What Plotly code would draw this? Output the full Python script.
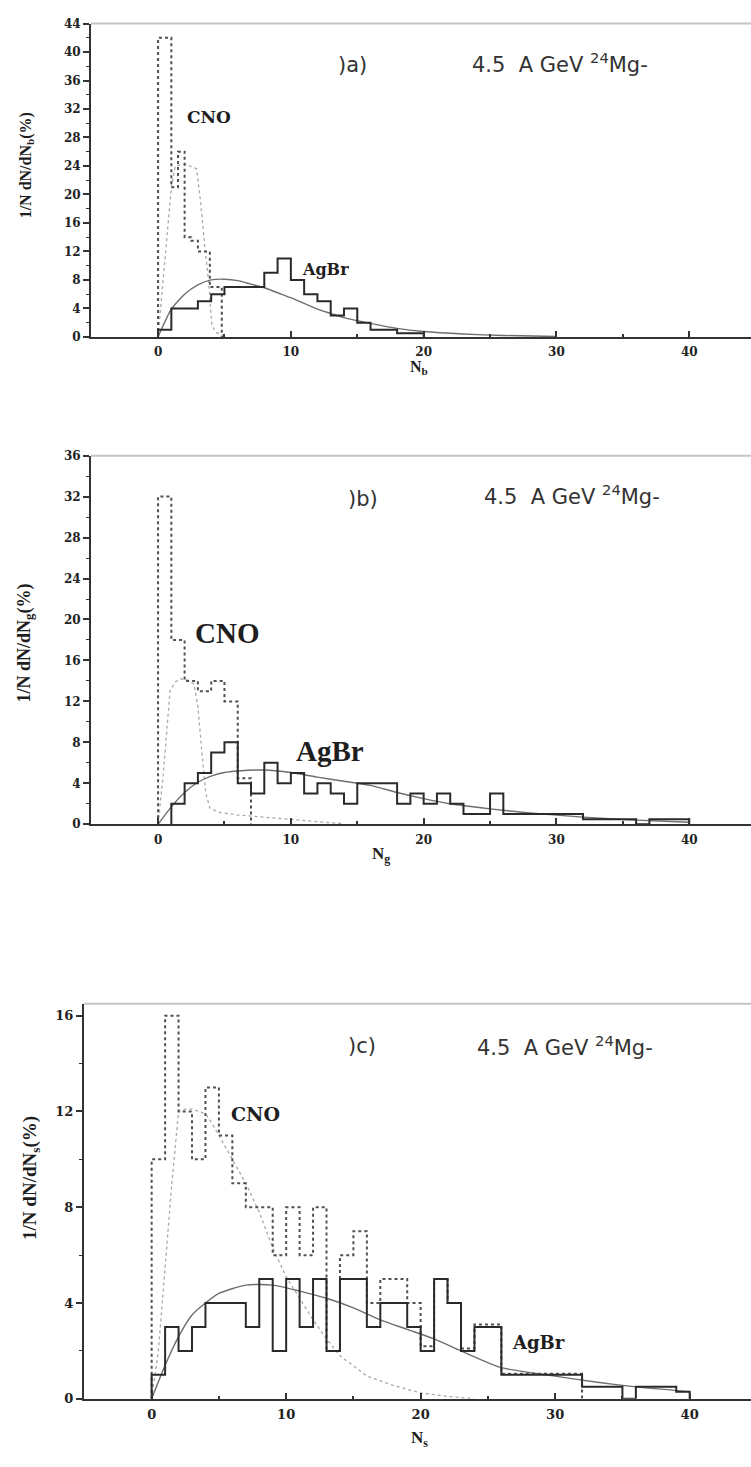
import plotly.graph_objects as go

W, H = 751, 1467

# ---------------- data ----------------
# panel (a): N_b
nb_cno_edges = [0, 1, 1.5, 2, 2.5, 3, 3.9, 4.8]
nb_cno_vals = [42, 21, 26, 14, 13.5, 12, 7]
nb_agbr_edges = [0, 1, 3, 4, 5, 8, 9, 10, 11, 12, 13, 14, 15, 16, 18, 20]
nb_agbr_vals = [1, 4, 5, 6, 7, 9, 11, 8, 6, 5, 3, 4, 2, 1, 0.5]
nb_agbr_fit_x = [0, 1, 2, 3, 4, 5, 6, 7, 8, 9, 10, 11, 12, 13, 14, 16, 18, 20, 23, 26, 30]
nb_agbr_fit_y = [0, 3.9, 6.0, 7.3, 8.0, 8.1, 7.9, 7.4, 6.9, 6.2, 5.5, 4.7, 3.9, 3.3, 2.7, 1.9, 1.2, 0.75, 0.4, 0.2, 0.05]
nb_cno_fit_x = [0, 0.5, 1, 1.3, 2, 2.9, 3.2, 3.5, 3.8, 4.05, 4.4, 4.8, 5.2]
nb_cno_fit_y = [0, 10.5, 21, 24, 24.3, 23.6, 19, 13, 7.9, 1.6, 0.6, 0.3, 0]

# panel (b): N_g
ng_cno_edges = [0, 1, 2, 3, 4, 5, 6, 7]
ng_cno_vals = [32, 18, 14, 13, 14, 12, 4.5]
ng_agbr_edges = [1, 2, 3, 4, 5, 6, 7, 8, 9, 10, 11, 12, 13, 14, 15, 18, 19, 20, 21, 22, 23, 25, 26, 32, 36, 37, 40]
ng_agbr_vals = [2, 4, 5, 7, 8, 4, 3, 6, 4, 5, 3, 4, 3, 2, 4, 2, 3, 2, 3, 2, 1, 3, 1, 0.5, 0, 0.5]
ng_agbr_fit_x = [0, 1, 2, 3, 4, 5, 6, 8, 10, 12, 14, 16, 18, 20, 22, 25, 28, 32, 36, 40]
ng_agbr_fit_y = [0, 1.7, 3.1, 4.1, 4.7, 5.05, 5.2, 5.3, 5.05, 4.6, 4.2, 3.8, 3.1, 2.5, 2.0, 1.5, 1.1, 0.7, 0.4, 0.2]
ng_cno_fit_x = [0, 0.4, 0.9, 1.3, 1.7, 2.2, 2.7, 3.0, 3.3, 3.6, 3.9, 4.5, 6, 8, 10, 12, 14]
ng_cno_fit_y = [0, 5, 13, 13.9, 14.2, 14.1, 13.7, 11.5, 7, 3, 1.6, 1.2, 0.9, 0.7, 0.5, 0.3, 0.05]

# panel (c): N_s
ns_cno_edges = list(range(0, 27)) + [32]
ns_cno_vals = [10, 16, 12, 10, 13, 11, 9, 8, 8, 6, 8, 6, 8, 2, 6, 7, 4, 5, 5, 4, 2.2, 5, 4, 2.1, 3.1, 3.1, 1.05]
ns_agbr_edges = [0, 1, 2, 3, 4, 7, 8, 9, 10, 11, 12, 13, 14, 16, 17, 19, 20, 21, 22, 23, 24, 26, 32, 35, 36, 39, 40]
ns_agbr_vals = [1, 3, 2, 3, 4, 3, 5, 2, 5, 3, 5, 2, 5, 3, 4, 3, 2, 5, 4, 2, 3, 1, 0.5, 0, 0.5, 0.3]
ns_agbr_fit_x = [0, 1, 2, 3, 4, 5, 7, 9, 11, 13, 15, 17, 19, 21, 23, 26, 30, 33, 36, 40]
ns_agbr_fit_y = [0, 1.4, 2.6, 3.5, 4.0, 4.4, 4.75, 4.75, 4.5, 4.2, 3.8, 3.3, 2.9, 2.5, 2.0, 1.3, 0.95, 0.7, 0.5, 0.3]
ns_cno_fit_x = [0, 0.5, 1, 1.5, 2, 2.5, 3, 4, 4.5, 5, 6, 7, 8, 9, 10, 11, 12, 13, 14, 16, 18, 20, 22, 24]
ns_cno_fit_y = [0, 2, 5.5, 9, 12, 12.1, 12.1, 11.9, 11.5, 11, 10, 9, 7.8, 6.3, 5.1, 4.2, 3.3, 2.5, 1.8, 0.95, 0.55, 0.25, 0.1, 0]

y_ticks_a = [0, 4, 8, 12, 16, 20, 24, 28, 32, 36, 40, 44]
y_ticks_b = [0, 4, 8, 12, 16, 20, 24, 28, 32, 36]
y_ticks_c = [0, 4, 8, 12, 16]
x_ticks = [0, 10, 20, 30, 40]

# ---------------- helpers ----------------
def step_xy(edges, vals):
    xs = [edges[0]] + list(edges[:-1]) + [edges[-1], edges[-1]]
    ys = [0] + list(vals) + [vals[-1], 0]
    return xs, ys

def px(x):
    return x / W

def py(y):
    return 1 - y / H

fig = go.Figure()

panels = [
    ("x", "y", nb_cno_edges, nb_cno_vals, nb_agbr_edges, nb_agbr_vals,
     nb_agbr_fit_x, nb_agbr_fit_y, nb_cno_fit_x, nb_cno_fit_y),
    ("x2", "y2", ng_cno_edges, ng_cno_vals, ng_agbr_edges, ng_agbr_vals,
     ng_agbr_fit_x, ng_agbr_fit_y, ng_cno_fit_x, ng_cno_fit_y),
    ("x3", "y3", ns_cno_edges, ns_cno_vals, ns_agbr_edges, ns_agbr_vals,
     ns_agbr_fit_x, ns_agbr_fit_y, ns_cno_fit_x, ns_cno_fit_y),
]

for xa, ya, ce, cv, ae, av, afx, afy, cfx, cfy in panels:
    # CNO fit (light dotted)
    fig.add_trace(go.Scatter(x=cfx, y=cfy, mode="lines", xaxis=xa, yaxis=ya,
                             line=dict(color="#a8a8a8", width=1.3, dash="dot"),
                             showlegend=False, hoverinfo="skip"))
    # AgBr fit (grey solid)
    fig.add_trace(go.Scatter(x=afx, y=afy, mode="lines", xaxis=xa, yaxis=ya,
                             line=dict(color="#6e6e6e", width=1.4, shape="spline", smoothing=0.6),
                             showlegend=False, hoverinfo="skip"))
    # CNO histogram (dotted)
    sx, sy = step_xy(ce, cv)
    fig.add_trace(go.Scatter(x=sx, y=sy, mode="lines", xaxis=xa, yaxis=ya,
                             line=dict(color="#505050", width=2, dash="dot", shape="hv"),
                             showlegend=False, hoverinfo="skip"))
    # AgBr histogram (solid)
    sx, sy = step_xy(ae, av)
    fig.add_trace(go.Scatter(x=sx, y=sy, mode="lines", xaxis=xa, yaxis=ya,
                             line=dict(color="#2a2a2a", width=2, shape="hv"),
                             showlegend=False, hoverinfo="skip"))

tickfont = dict(family="DejaVu Serif", size=12, color="#222", weight="bold")
tickfont_c = dict(family="DejaVu Serif", size=13, color="#222", weight="bold")

def xaxis(domain, rng, anchor, tf):
    return dict(domain=domain, range=rng, anchor=anchor, showgrid=False, zeroline=False,
                showline=True, linecolor="#333", linewidth=2,
                tickvals=x_ticks, ticks="inside", ticklen=6, tickwidth=1.5, tickcolor="#333",
                minor=dict(tickvals=[5, 15, 25, 35], ticks="inside", ticklen=3, tickwidth=1.5, tickcolor="#333"),
                tickfont=tf, ticklabelstandoff=3, fixedrange=True)

def yaxis(domain, rng, anchor, tv, tf, minor_vals):
    return dict(domain=domain, range=rng, anchor=anchor, showgrid=False, zeroline=False,
                showline=True, linecolor="#333", linewidth=2,
                tickvals=tv, ticks="outside", ticklen=6, tickwidth=1.5, tickcolor="#333",
                minor=dict(tickvals=minor_vals, ticks="outside", ticklen=3, tickwidth=1.2, tickcolor="#333"),
                tickfont=tf, fixedrange=True)

dom_a = [1 - 333.3 / H, 1 - 16.7 / H]
dom_b = [1 - 825.7 / H, 1 - 453.3 / H]
dom_c = [1 - 1406.2 / H, 1 - 1007 / H]

fig.update_layout(
    width=W, height=H, margin=dict(l=0, r=0, t=0, b=0),
    paper_bgcolor="white", plot_bgcolor="white",
    xaxis=xaxis([91 / W, 1], [-5.05, 44.65], "y", tickfont),
    yaxis=yaxis(dom_a, [0, 44], "x", y_ticks_a, tickfont, [v + 2 for v in y_ticks_a[:-1]]),
    xaxis2=xaxis([91 / W, 1], [-5.05, 44.65], "y2", tickfont),
    yaxis2=yaxis(dom_b, [0, 36], "x2", y_ticks_b, tickfont, [v + 2 for v in y_ticks_b[:-1]]),
    xaxis3=xaxis([84 / W, 1], [-5.03, 44.56], "y3", tickfont_c),
    yaxis3=yaxis(dom_c, [0, 16.5], "x3", y_ticks_c, tickfont_c, [v + 2 for v in y_ticks_c[:-1]]),
)

# grey top border of every frame
for xa, ya in [("x", "y"), ("x2", "y2"), ("x3", "y3")]:
    fig.add_shape(type="line", xref=f"{xa} domain", yref=f"{ya} domain",
                  x0=0, x1=1, y0=1, y1=1, line=dict(color="#c4c4c4", width=2))

serif_b = "Liberation Serif"
dj_serif = "DejaVu Serif"
sans = "DejaVu Sans"

def ann(text, x, y, size, family, weight="normal", angle=0, color="#1e1e1e"):
    fig.add_annotation(text=text, x=px(x), y=py(y), xref="paper", yref="paper",
                       showarrow=False, textangle=angle, xanchor="center", yanchor="middle",
                       font=dict(family=family, size=size, color=color, weight=weight))

sp = "\u00a0"
energy = f"4.5{sp}{sp}A GeV <sup>24</sup>Mg-"

# panel (a)
ann(")a)", 352, 59, 21, sans, color="#333")
ann(energy, 560, 57, 21, sans, color="#333")
ann("CNO", 209, 111, 17, dj_serif, "bold")
ann("AgBr", 325, 265, 16, dj_serif, "bold")
ann("1/N dN/dN<sub>b</sub>(%)", 26, 160, 16, serif_b, "bold", -90)
ann("N<sub>b</sub>", 419, 364, 16, serif_b, "bold")

# panel (b)
ann(")b)", 363, 497, 21, sans, color="#333")
ann(energy, 572, 493, 21, sans, color="#333")
ann("CNO", 227, 632, 29, serif_b, "bold")
ann("AgBr", 330, 752, 29, serif_b, "bold")
ann("1/N dN/dN<sub>g</sub>(%)", 25, 643, 18, serif_b, "bold", -90)
ann("N<sub>g</sub>", 381, 857, 17, serif_b, "bold")

# panel (c)
ann(")c)", 362, 1050, 21, sans, color="#333")
ann(energy, 565, 1050, 21, sans, color="#333")
ann("CNO", 255, 1118, 19, dj_serif, "bold")
ann("AgBr", 538, 1349, 18, dj_serif, "bold")
ann("1/N dN/dN<sub>s</sub>(%)", 31, 1183, 19, serif_b, "bold", -90)
ann("N<sub>s</sub>", 419, 1447, 17, serif_b, "bold")

fig.write_html("out.html")
